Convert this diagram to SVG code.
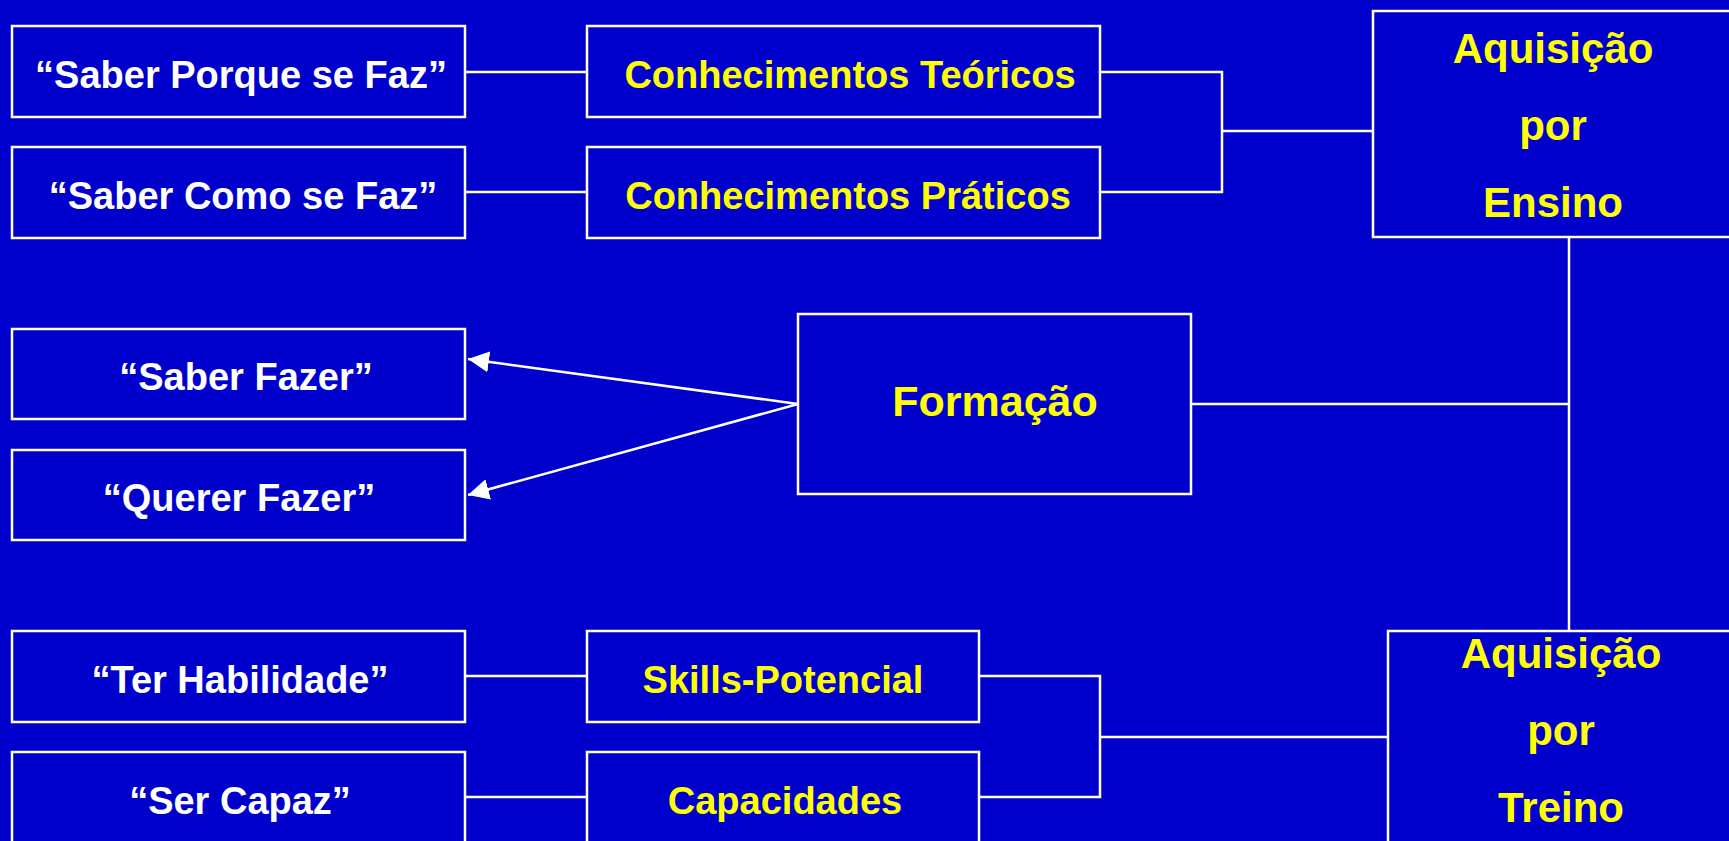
<svg xmlns="http://www.w3.org/2000/svg" width="1729" height="841" viewBox="0 0 1729 841">
<style>
.box{fill:#0000CC;stroke:#FFFFFF;stroke-width:2.5}
.ln{fill:none;stroke:#FFFFFF;stroke-width:2.5}
.w{fill:#FFFFFF;font-family:"Liberation Sans",Arial,sans-serif;font-weight:bold;font-size:38px;text-anchor:middle}
.y{fill:#FFFF00;font-family:"Liberation Sans",Arial,sans-serif;font-weight:bold;font-size:38px;text-anchor:middle}
.yb{fill:#FFFF00;font-family:"Liberation Sans",Arial,sans-serif;font-weight:bold;font-size:42px;text-anchor:middle}
</style>
<defs>
<marker id="ah" markerWidth="21" markerHeight="21" viewBox="0 0 21 21" refX="21" refY="10.5" orient="auto" markerUnits="userSpaceOnUse">
<path d="M0,0 L21,10.5 L0,21 Z" fill="#FFFFFF"/>
</marker>
</defs>
<rect width="1729" height="841" fill="#0000CC"/>
<g id="connectors">
<line class="ln" x1="465" y1="72" x2="587" y2="72"/>
<line class="ln" x1="465" y1="192" x2="587" y2="192"/>
<polyline class="ln" points="1100,72 1222,72 1222,192 1100,192"/>
<line class="ln" x1="1222" y1="131" x2="1373" y2="131"/>
<line class="ln" x1="798" y1="404" x2="468" y2="359" marker-end="url(#ah)"/>
<line class="ln" x1="798" y1="404" x2="468" y2="495" marker-end="url(#ah)"/>
<line class="ln" x1="1191" y1="404" x2="1569" y2="404"/>
<line class="ln" x1="1569" y1="237" x2="1569" y2="631"/>
<line class="ln" x1="465" y1="676" x2="587" y2="676"/>
<line class="ln" x1="465" y1="797" x2="587" y2="797"/>
<polyline class="ln" points="979,676 1100,676 1100,797 979,797"/>
<line class="ln" x1="1100" y1="737" x2="1388" y2="737"/>
</g>
<g id="saber-porque"><rect class="box" x="12" y="26" width="453" height="91"/><text class="w" x="241" y="88">“Saber Porque se Faz”</text></g>
<g id="saber-como"><rect class="box" x="12" y="147" width="453" height="91"/><text class="w" x="243" y="209">“Saber Como se Faz”</text></g>
<g id="conh-teoricos"><rect class="box" x="587" y="26" width="513" height="91"/><text class="y" x="850" y="88">Conhecimentos Teóricos</text></g>
<g id="conh-praticos"><rect class="box" x="587" y="147" width="513" height="91"/><text class="y" x="848" y="209">Conhecimentos Práticos</text></g>
<g id="aq-ensino"><rect class="box" x="1373" y="11" width="380" height="226"/>
<text class="yb" x="1553" y="63">Aquisição</text><text class="yb" x="1553" y="140">por</text><text class="yb" x="1553" y="217">Ensino</text></g>
<g id="saber-fazer"><rect class="box" x="12" y="329" width="453" height="90"/><text class="w" x="246" y="390">“Saber Fazer”</text></g>
<g id="querer-fazer"><rect class="box" x="12" y="450" width="453" height="90"/><text class="w" x="239" y="511">“Querer Fazer”</text></g>
<g id="formacao"><rect class="box" x="798" y="314" width="393" height="180"/><text class="yb" x="995" y="416" style="font-size:43px">Formação</text></g>
<g id="ter-habilidade"><rect class="box" x="12" y="631" width="453" height="91"/><text class="w" x="240" y="693">“Ter Habilidade”</text></g>
<g id="ser-capaz"><rect class="box" x="12" y="752" width="453" height="100"/><text class="w" x="240" y="814">“Ser Capaz”</text></g>
<g id="skills"><rect class="box" x="587" y="631" width="392" height="91"/><text class="y" x="783" y="693">Skills-Potencial</text></g>
<g id="capacidades"><rect class="box" x="587" y="752" width="392" height="100"/><text class="y" x="785" y="814">Capacidades</text></g>
<g id="aq-treino"><rect class="box" x="1388" y="631" width="380" height="230"/>
<text class="yb" x="1561" y="668">Aquisição</text><text class="yb" x="1561" y="745">por</text><text class="yb" x="1561" y="822">Treino</text></g>
</svg>
